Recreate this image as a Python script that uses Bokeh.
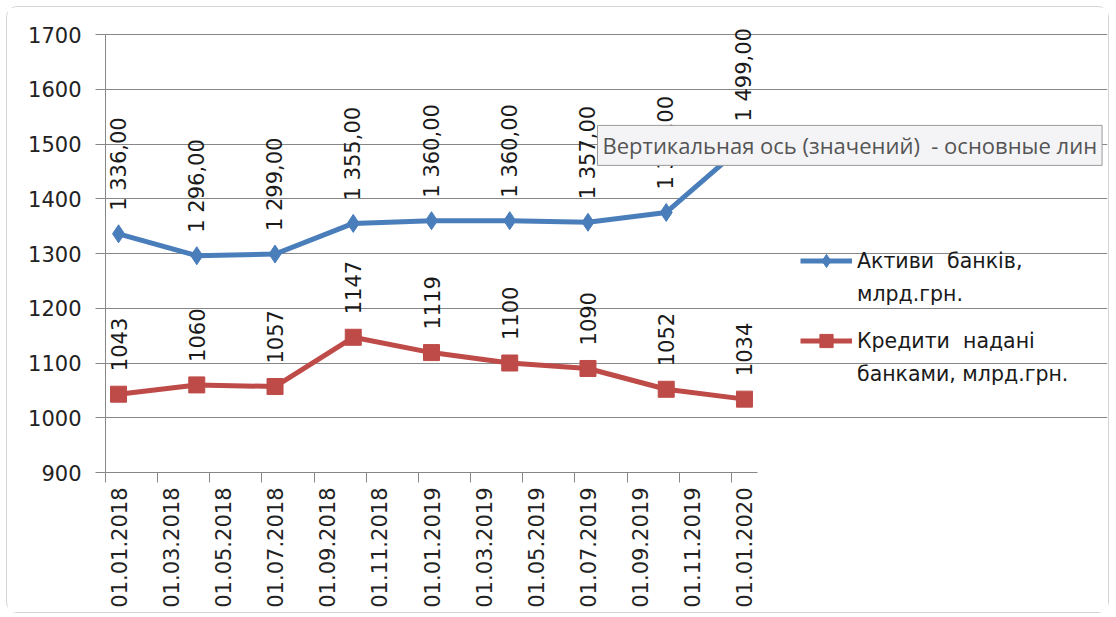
import math
from bokeh.plotting import figure
from bokeh.models import (Range1d, FixedTicker, Legend, LegendItem, Label, ColumnDataSource)
from bokeh.core.properties import value
from bokeh.embed import file_html
from bokeh.resources import INLINE

# ---- data ----
dates = ["01.01.2018", "01.04.2018", "01.07.2018", "01.10.2018", "01.01.2019",
         "01.04.2019", "01.07.2019", "01.10.2019", "01.01.2020"]
assets = [1336, 1296, 1299, 1355, 1360, 1360, 1357, 1375, 1499]
credits = [1043, 1060, 1057, 1147, 1119, 1100, 1090, 1052, 1034]
tick_labels = ["01.01.2018", "01.03.2018", "01.05.2018", "01.07.2018", "01.09.2018",
               "01.11.2018", "01.01.2019", "01.03.2019", "01.05.2019", "01.07.2019",
               "01.09.2019", "01.11.2019", "01.01.2020"]
y_ticks = [900, 1000, 1100, 1200, 1300, 1400, 1500, 1600, 1700]
assets_name = ["Активи  банків,", "млрд.грн."]
credits_name = ["Кредити  надані", "банками, млрд.грн."]
tooltip_text = "Вертикальная ось (значений)\u00a0 - основные лин"


def half_month_pos(d):
    # position in half-month units, centred in the month slot
    dd, mm, yy = d.split(".")
    m = (int(yy) - 2018) * 12 + int(mm) - 1
    return 2 * m + 1


xs = [half_month_pos(d) for d in dates]
tick_pos = [half_month_pos(t) for t in tick_labels]
tick_bounds = [p - 1 for p in tick_pos]
x_axis_end = tick_pos[-1] + 1  # end of last month slot

asset_text = [f"{v:,.2f}".replace(",", " ").replace(".", ",") for v in assets]
credit_text = [str(v) for v in credits]

src = ColumnDataSource(dict(x=xs, a=assets, c=credits, at=asset_text, ct=credit_text))

FONT = "DejaVu Sans"
BLUE = "#4A7EBB"
RED = "#BE4B48"
GRID = "#878787"

W, H = 1101, 605
ML, MR, MT, MB = 98, 1, 13, 140
px_per_unit = 652 / x_axis_end
x_view_end = (W - ML - MR) / px_per_unit
px_per_y = 438 / (y_ticks[-1] - y_ticks[0])
frame_h = H - MT - MB
y_view_end = y_ticks[0] + frame_h / px_per_y

p = figure(width=W, height=H, output_backend="svg", toolbar_location=None,
           x_range=Range1d(0, x_view_end), y_range=Range1d(y_ticks[0], y_view_end),
           min_border_left=ML, min_border_right=MR, min_border_top=MT, min_border_bottom=MB)
p.outline_line_color = None
p.background_fill_color = "white"
p.border_fill_color = "white"
p.styles = {"margin-left": "7px", "margin-top": "7px",
            "outline": "1px solid #d4d4d4", "border-radius": "10px"}

# y axis
p.yaxis.bounds = (y_ticks[0], y_ticks[-1])
p.yaxis.ticker = FixedTicker(ticks=y_ticks)
p.yaxis.axis_line_color = GRID
p.yaxis.major_tick_line_color = GRID
p.yaxis.major_tick_out = 10
p.yaxis.major_tick_in = 0
p.yaxis.minor_tick_line_color = None
p.yaxis.major_label_standoff = 14
p.yaxis.major_label_text_font = FONT
p.yaxis.major_label_text_font_size = "21px"
p.yaxis.major_label_text_color = "#222222"
p.ygrid.grid_line_color = GRID
p.ygrid.grid_line_width = 1
p.ygrid.bounds = (0, x_axis_end)

# x axis
p.xaxis.bounds = (0, x_axis_end)
p.xaxis.ticker = FixedTicker(ticks=tick_pos, minor_ticks=tick_bounds)
p.xaxis.major_label_overrides = {t: l for t, l in zip(tick_pos, tick_labels)}
p.xaxis.major_label_orientation = math.pi / 2
p.xaxis.major_tick_line_color = None
p.xaxis.major_tick_out = 10
p.xaxis.minor_tick_line_color = GRID
p.xaxis.minor_tick_out = 10
p.xaxis.minor_tick_in = 0
p.xaxis.axis_line_color = GRID
p.xaxis.major_label_standoff = 5
p.xaxis.major_label_text_font = FONT
p.xaxis.major_label_text_font_size = "21px"
p.xaxis.major_label_text_color = "#222222"
p.xgrid.grid_line_color = None

# series
la = p.line("x", "a", source=src, line_color=BLUE, line_width=5)
sa = p.scatter("x", "a", source=src, marker="diamond", size=18, fill_color=BLUE, line_color=BLUE)
lc = p.line("x", "c", source=src, line_color=RED, line_width=5)
sc = p.scatter("x", "c", source=src, marker="square", size=16, fill_color=RED, line_color=RED)
blank = p.line(x=[], y=[], line_alpha=0)

# data labels
for col, y in (("at", "a"), ("ct", "c")):
    p.text("x", y, text=col, source=src, angle=math.pi / 2, text_align="left",
           text_baseline="middle", y_offset=-23, text_font=value(FONT),
           text_font_size="21px", text_color="#1a1a1a")


def make_legend(lines, rends, loc):
    lg = Legend(items=[LegendItem(label=lines[0], renderers=rends),
                       LegendItem(label=lines[1], renderers=[blank])],
                location=loc, orientation="vertical")
    lg.border_line_color = None
    lg.background_fill_alpha = 0
    lg.padding = 0
    lg.margin = 0
    lg.spacing = 0
    lg.glyph_width = 52
    lg.glyph_height = 33
    lg.label_height = 33
    lg.label_standoff = 5
    lg.label_text_font = FONT
    lg.label_text_font_size = "20.5px"
    lg.label_text_color = "#1a1a1a"
    return lg


p.add_layout(make_legend(assets_name, [la, sa], (695, 162)), "center")
p.add_layout(make_legend(credits_name, [lc, sc], (695, 82)), "center")

tip = Label(x=(597 - 105) / px_per_unit, y=1534, x_units="data", y_units="data",
            text=tooltip_text, anchor="top_left", text_font="Open Sans",
            text_font_size="22px", text_color="#555555", background_fill_color="#f4f4f6",
            border_line_color="#9a9a9a", padding=5, level="overlay")
p.add_layout(tip)

open("out.html", "w").write(file_html(p, INLINE))
